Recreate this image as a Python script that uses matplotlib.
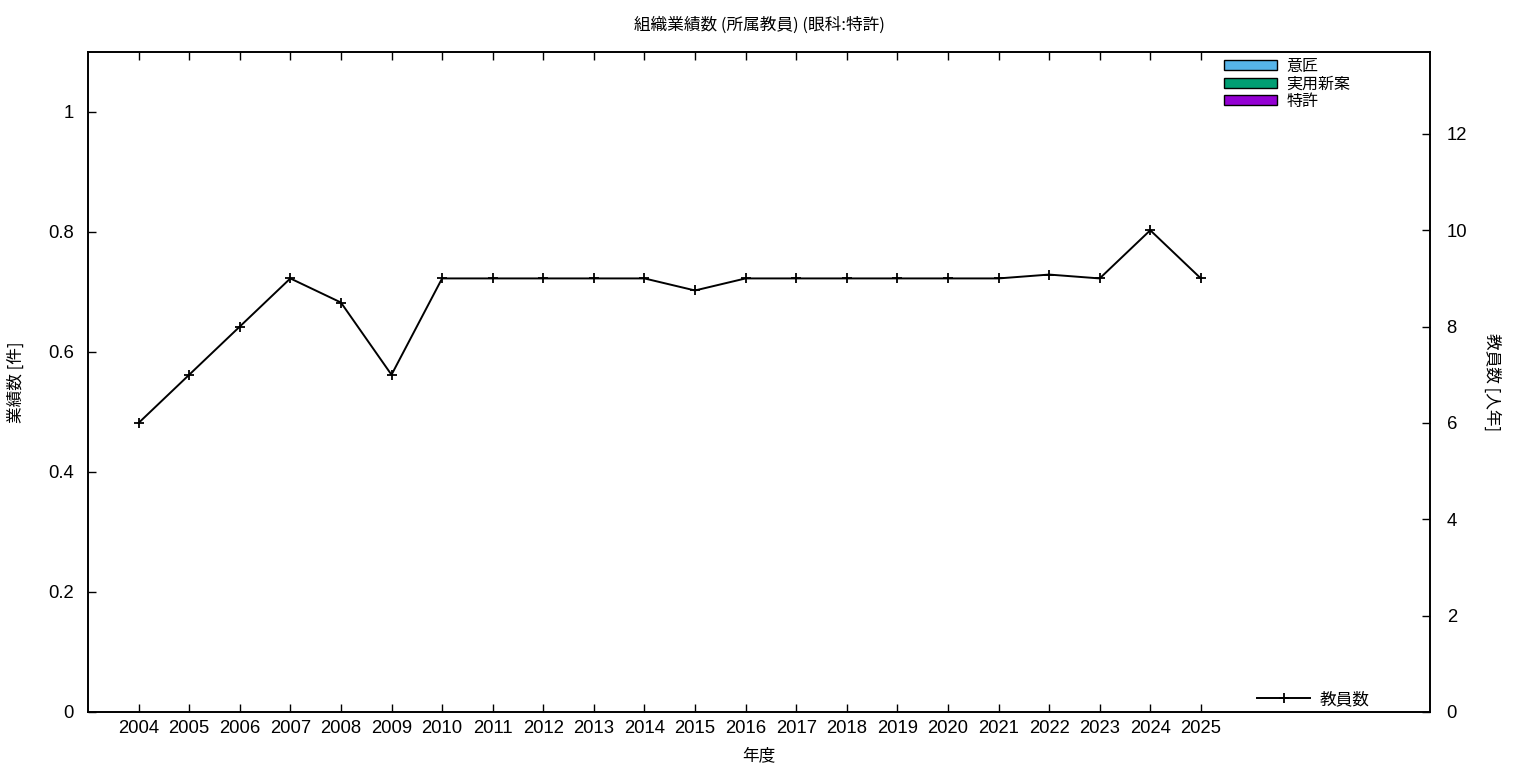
import matplotlib
matplotlib.use("Agg")
import matplotlib.pyplot as plt
import numpy as np
from matplotlib.patches import Patch

plt.rcParams['font.family'] = ['Liberation Sans', 'Noto Sans CJK JP', 'DejaVu Sans']

years = list(range(2004, 2026))
staff = [6, 7, 8, 9, 8.5, 7, 9, 9, 9, 9, 9, 8.75, 9, 9, 9, 9, 9, 9, 9.08, 9, 10, 9]
patent = [0] * len(years)
utility = [0] * len(years)
design = [0] * len(years)

series_names = ['意匠', '実用新案', '特許']
series_colors = ['#56b4e9', '#009e73', '#9400d3']

W, H = 1536, 768
fig = plt.figure(figsize=(W / 100, H / 100), dpi=100)
L, R, T, B = 88, 1430, 52, 712
ax = fig.add_axes([L / W, 1 - B / H, (R - L) / W, (B - T) / H])
ax2 = ax.twinx()

x = np.array(years)
bottom = np.zeros(len(years))
for name, color, vals in zip(['特許', '実用新案', '意匠'],
                             ['#9400d3', '#009e73', '#56b4e9'],
                             [patent, utility, design]):
    ax.bar(x, vals, width=0.5, bottom=bottom, color=color,
           edgecolor='black', linewidth=0.0, label=name)
    bottom = bottom + np.array(vals)

leg_handles = [Patch(facecolor=c, edgecolor='black', linewidth=1.0)
               for c in series_colors]
cjk = ['Noto Sans CJK JP', 'DejaVu Sans']
leg1 = ax.legend(leg_handles, series_names, loc='upper left',
                 bbox_to_anchor=(1224 / W, 1 - 58 / H),
                 bbox_transform=fig.transFigure, frameon=False,
                 prop={'family': cjk, 'size': 11.5}, handlelength=3.3,
                 handleheight=0.6, labelspacing=0.02, handletextpad=0.6,
                 borderpad=0, borderaxespad=0)

ax2.plot(x, staff, color='black', linewidth=1.4, marker='+',
         markersize=6.5, markeredgewidth=1.3, label='教員数')
leg2 = ax2.legend(loc='lower left', bbox_to_anchor=(1257 / W, 1 - 708 / H),
                  bbox_transform=fig.transFigure, frameon=False,
                  prop={'family': cjk, 'size': 12}, handlelength=3.2,
                  handletextpad=0.55, borderpad=0, borderaxespad=0)

ax.set_xlim(2003, 2029.53)
ax.set_ylim(0, 1.1)
ax2.set_ylim(0, 13.7)

ax.set_xticks(years)
ax.set_xticklabels([str(y) for y in years])
ax.set_yticks([0, 0.2, 0.4, 0.6, 0.8, 1.0])
ax.set_yticklabels(['0', '0.2', '0.4', '0.6', '0.8', '1'])
ax2.set_yticks([0, 2, 4, 6, 8, 10, 12])

ax.tick_params(axis='x', direction='in', length=6, width=1, top=True,
               labelsize=13.3, pad=6)
ax.tick_params(axis='y', direction='in', length=6, width=1, right=False,
               labelsize=13.3, pad=10)
ax2.tick_params(axis='y', direction='in', length=6, width=1,
                labelsize=13.3, pad=12)

for a in (ax, ax2):
    for s in a.spines.values():
        s.set_linewidth(1.2)

ax.set_xlabel('年度', fontsize=12, labelpad=7, family=cjk)
ax.set_ylabel('業績数 [件]', fontsize=12, labelpad=17, family=cjk)
ax2.set_ylabel('教員数 [人年]', fontsize=12, rotation=270, labelpad=24,
               family=cjk)
fig.text(759 / W, 1 - 25 / H, '組織業績数 (所属教員) (眼科:特許)',
         ha='center', va='center', fontsize=12, family=cjk)

fig.savefig('out.png', dpi=100)
